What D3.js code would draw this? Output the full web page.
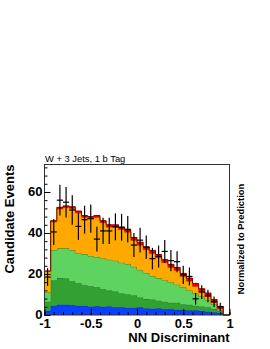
<!DOCTYPE html>
<html lang="en">
<head>
<meta charset="UTF-8">
<title>NN Discriminant</title>
<script src="https://d3js.org/d3.v7.min.js"></script>
<style>
  body { margin: 0; background: #fff; }
  text { font-family: "Liberation Sans", Arial, Helvetica, sans-serif; }
</style>
</head>
<body>
<div id="chart"></div>
<script>
// 30 bins from -1 to 1, stacked predictions bottom -> top
var nBins = 30;
var blueVals       = [2, 4.5, 5, 5, 4.7, 4.5, 4.5, 4, 4.3, 4, 4.2, 3.8, 3.8, 3.5, 3.5, 3.8, 3.2, 3, 3.2, 2.8, 2.8, 2.5, 2.5, 2.2, 2.2, 2, 1.6, 1.4, 1, 0];
var darkGreenVals  = [4.5, 12.5, 13, 12.8, 11.8, 11, 10, 10, 9.2, 8.5, 7.8, 7.7, 6.7, 6.5, 6, 4.7, 4.6, 4.5, 3.8, 3.7, 3.2, 3.5, 2.8, 2.8, 2.3, 2.2, 2.2, 1.6, 1, 0];
var lightGreenVals = [4.5, 14.7, 14.5, 14.7, 15.2, 14.5, 15.2, 14.8, 14.8, 15.1, 15, 15, 15, 14.9, 14, 13.5, 12.7, 11.5, 11, 10.5, 10, 8.8, 8.2, 7, 6, 4.8, 3.4, 2.2, 0.5, 0];
var orangeVals     = [10.2, 13.6, 19.2, 19.9, 20.3, 19.7, 17.8, 18.2, 19.2, 17.4, 15.8, 16.3, 16.1, 15.4, 12.8, 12, 11.3, 11, 10, 8.5, 7.2, 6.9, 5.3, 4.5, 3.4, 2.3, 2, 0.8, 0.4, 0];
var redVals        = [0.3, 0.7, 0.8, 0.8, 0.8, 1, 1, 1, 1, 1, 1.2, 1.2, 1.2, 1.2, 1.5, 1.5, 1.5, 1.5, 1.5, 1.5, 1.5, 1.5, 1.5, 1.5, 1.5, 1.5, 1.5, 1.5, 1.3, 0];
// observed candidate events
var dataVals = [18.5, 40.5, 56, 55, 51.2, 43.2, 46.5, 47, 37, 41, 41, 43, 42.8, 41.8, 34.1, 36.5, 33, 27.5, 28.5, 31, 26.5, 26, 19.6, 18.8, 7.9, 11.2, 9.3, 6.5, 4, 0];

var yTicks = [0, 20, 40, 60];
var xTicks = [-1, -0.5, 0, 0.5, 1];
var xTickLabels = ["-1", "-0.5", "0", "0.5", "1"];

var width = 270, height = 349;
var svg = d3.select("#chart").append("svg")
    .attr("width", width)
    .attr("height", height);

var x = d3.scaleLinear().domain([-1, 1]).range([44.5, 229.5]);
var y = d3.scaleLinear().domain([0, 73.4]).range([315, 164.5]);
var binW = 2 / nBins;

var rows = d3.range(nBins).map(function(i) {
    return {
        lo: -1 + i * binW, hi: -1 + (i + 1) * binW,
        blue: blueVals[i], darkGreen: darkGreenVals[i], lightGreen: lightGreenVals[i],
        orange: orangeVals[i], red: redVals[i]
    };
});
var keys = ["blue", "darkGreen", "lightGreen", "orange", "red"];
var fills = {blue: "#0a40ff", darkGreen: "#33a033", lightGreen: "#5fd35f", orange: "#ffa800", red: "#ee0000"};
var edges = {blue: "#0a2aa0", darkGreen: "#22772a", lightGreen: "#2f8a2f", orange: "#c07a00", red: "#8a0000"};

var layers = d3.stack().keys(keys)(rows);

var area = d3.area()
    .x(function(p) { return x(p.x); })
    .y0(function(p) { return y(p.y0); })
    .y1(function(p) { return y(p.y1); });
var line = d3.line()
    .x(function(p) { return x(p.x); })
    .y(function(p) { return y(p.y1); });

layers.forEach(function(layer) {
    var pts = [];
    layer.forEach(function(d) {
        pts.push({x: d.data.lo, y0: d[0], y1: d[1]});
        pts.push({x: d.data.hi, y0: d[0], y1: d[1]});
    });
    svg.append("path").attr("d", area(pts)).attr("fill", fills[layer.key]);
    svg.append("path").attr("d", line(pts)).attr("fill", "none")
        .attr("stroke", edges[layer.key]).attr("stroke-width", 1);
});

// data points with poisson error bars
var pts = svg.append("g").attr("stroke", "#000").attr("stroke-width", 1.2);
rows.forEach(function(d, i) {
    var n = dataVals[i];
    if (n <= 0) return;
    var e = Math.sqrt(n);
    var xc = x((d.lo + d.hi) / 2);
    pts.append("line").attr("x1", xc).attr("x2", xc).attr("y1", y(n - e)).attr("y2", y(n + e));
    pts.append("line").attr("x1", x(d.lo)).attr("x2", x(d.hi)).attr("y1", y(n)).attr("y2", y(n));
});

// frame
svg.append("rect")
    .attr("x", x(-1)).attr("y", y(73.4))
    .attr("width", x(1) - x(-1)).attr("height", y(0) - y(73.4))
    .attr("fill", "none").attr("stroke", "#333").attr("stroke-width", 1);

// axes
var yMinor = svg.append("g").attr("transform", "translate(" + x(-1) + ",0)")
    .call(d3.axisLeft(y).tickValues(d3.range(0, 73, 4)).tickSize(-3).tickFormat(""));
var yAxis = svg.append("g").attr("transform", "translate(" + x(-1) + ",0)")
    .call(d3.axisLeft(y).tickValues(yTicks).tickSize(-6).tickPadding(2));
var xMinor = svg.append("g").attr("transform", "translate(0," + y(0) + ")")
    .call(d3.axisBottom(x).tickValues(d3.range(-10, 11).map(function(v) { return v / 10; })).tickSize(-3).tickFormat(""));
var xAxis = svg.append("g").attr("transform", "translate(0," + y(0) + ")")
    .call(d3.axisBottom(x).tickValues(xTicks).tickSize(-6).tickPadding(4)
        .tickFormat(function(d, i) { return xTickLabels[i]; }));

[yMinor, yAxis, xMinor, xAxis].forEach(function(g) {
    g.select(".domain").remove();
    g.selectAll("line").attr("stroke", "#000");
    g.selectAll("text").attr("font-size", 13).attr("font-weight", "bold")
        .attr("font-family", "Liberation Sans, Arial, sans-serif").attr("fill", "#000");
});
yAxis.selectAll("text").attr("dy", "0.25em");

// titles
svg.append("text").attr("x", 45).attr("y", 162)
    .attr("font-size", 9.4).text("W + 3 Jets, 1 b Tag");
svg.append("text").attr("transform", "translate(13.5,164.5) rotate(-90)")
    .attr("text-anchor", "end").attr("font-size", 13).attr("font-weight", "bold")
    .text("Candidate Events");
svg.append("text").attr("x", 229.5).attr("y", 342)
    .attr("text-anchor", "end").attr("font-size", 13).attr("font-weight", "bold")
    .text("NN Discriminant");
svg.append("text").attr("transform", "translate(243.5,239) rotate(-90)")
    .attr("text-anchor", "middle").attr("font-size", 9.4).attr("font-weight", "bold")
    .text("Normalized to Prediction");
</script>
</body>
</html>
